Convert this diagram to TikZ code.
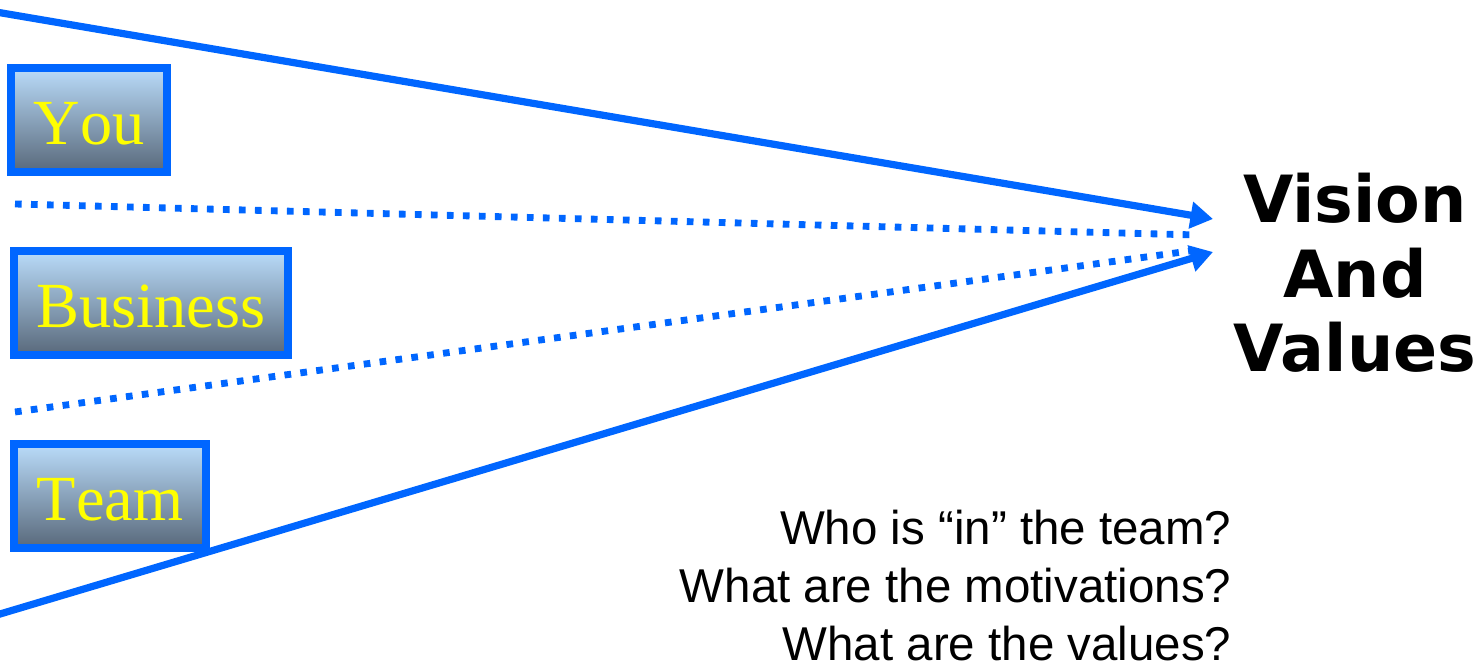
\documentclass[tikz,border=0pt]{standalone}
\usepackage{fontspec}
\setmainfont{Liberation Serif}[Kerning=Off]
\newfontfamily\dejavu{DejaVu Sans}
\newfontfamily\arial{Liberation Sans}
\usetikzlibrary{arrows.meta}
\definecolor{lineblue}{HTML}{0066FF}
\definecolor{boxtop}{HTML}{BADCFA}
\definecolor{boxbot}{HTML}{58687A}
\definecolor{boxtext}{HTML}{FFFF00}
\tikzset{
  topic/.style={draw=lineblue, line width=2.28pt, top color=boxtop, bottom color=boxbot,
    text=boxtext, font=\fontsize{18.3}{20}\selectfont, inner sep=0pt, outer sep=0pt,
    text height=13.9pt, text depth=0pt},
  solidarrow/.style={draw=lineblue, line width=2.05pt,
    -{Triangle[length=6.4pt,width=7.4pt]}},
  dotline/.style={draw=lineblue, line width=1.95pt, dash pattern=on 1.9pt off 2.65pt},
}
\begin{document}
\begin{tikzpicture}[x=0.01cm, y=-0.01cm]
\useasboundingbox (0,0) rectangle (1480,665);
% boxes
\node[topic, minimum width=1.56cm, minimum height=1.045cm] (you) at (89,120) {You};
\node[topic, minimum width=2.745cm, minimum height=1.045cm] (business) at (151,303) {Business};
\node[topic, minimum width=1.92cm, minimum height=1.04cm] (team) at (110,496) {Team};
% goal
\node[font=\dejavu\bfseries\fontsize{18.5}{21.3}\selectfont, align=center, anchor=base] (vision) at (1355,372) {Vision\\And\\Values};
% questions
\node[font=\arial\fontsize{13.5}{16.5}\selectfont, align=right, anchor=base east, inner sep=0pt] (questions) at (1232,661)
  {Who is “in” the team?\\What are the motivations?\\What are the values?};
% connector ends
\coordinate (topstart) at (-10,11);
\coordinate (topend) at (1213,219);
\coordinate (botstart) at (-10,617);
\coordinate (botend) at (1213,252);
\coordinate (d1start) at (15,204);
\coordinate (d1end) at (1197,235);
\coordinate (d2start) at (15,412);
\coordinate (d2end) at (1197,250);
% connectors
\draw[dotline] (d1start) -- (d1end);
\draw[dotline] (d2start) -- (d2end);
\draw[solidarrow] (topstart) -- (topend);
\draw[solidarrow] (botstart) -- (botend);
\end{tikzpicture}
\end{document}
